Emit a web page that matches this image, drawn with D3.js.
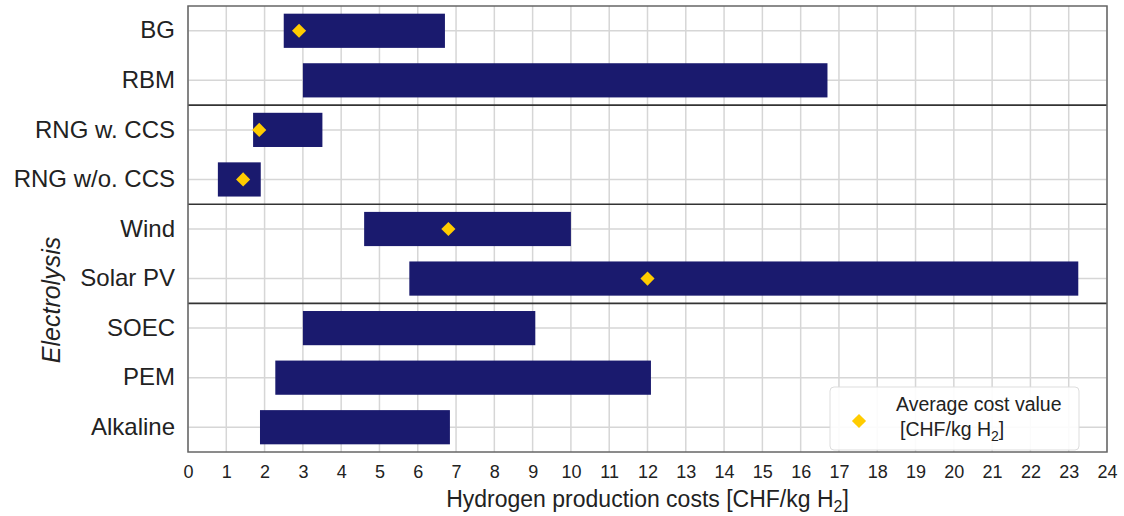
<!DOCTYPE html>
<html><head><meta charset="utf-8">
<script src="https://cdn.jsdelivr.net/npm/d3@7"></script>
<style>body{margin:0;background:#fff}svg{display:block;font-family:"Liberation Sans",Arial,sans-serif}</style>
</head><body><svg id="c" width="1124" height="516"></svg>
<script>
const categories = ["BG","RBM","RNG w. CCS","RNG w/o. CCS","Wind","Solar PV","SOEC","PEM","Alkaline"];
const minCost = [2.5, 3.0, 1.7, 0.78, 4.6, 5.78, 3.0, 2.28, 1.88];
const maxCost = [6.71, 16.7, 3.51, 1.9, 10.0, 23.25, 9.07, 12.09, 6.84];
const avgCost = [2.9, null, 1.86, 1.44, 6.8, 12.0, null, null, null];
const groupBreaksAfter = ["RBM","RNG w/o. CCS","Solar PV"];
const xTicks = d3.range(0, 25);

const svg = d3.select("#c");
const L = 188, R = 1107, T = 6, B = 452;
const x = d3.scaleLinear().domain([0,24]).range([L,R]);
const y = d3.scaleBand().domain(categories).range([T,B]).paddingInner(0.31).paddingOuter(0.155);
const yc = c => y(c) + y.bandwidth()/2;
const step = y.step();

// grid
svg.append("g").selectAll("line").data(xTicks).join("line")
  .attr("x1", d=>x(d)).attr("x2", d=>x(d)).attr("y1", T).attr("y2", B)
  .attr("stroke", "#d6d6d6").attr("stroke-width", 1.5);
svg.append("g").selectAll("line").data(categories).join("line")
  .attr("x1", L).attr("x2", R).attr("y1", yc).attr("y2", yc)
  .attr("stroke", "#d6d6d6").attr("stroke-width", 1.5);

// bars
svg.append("g").selectAll("rect").data(categories).join("rect")
  .attr("x", (d,i)=>x(minCost[i])).attr("width", (d,i)=>x(maxCost[i])-x(minCost[i]))
  .attr("y", d=>y(d)).attr("height", y.bandwidth())
  .attr("fill", "#1a1a6e");

// separators
svg.append("g").selectAll("line").data(groupBreaksAfter).join("line")
  .attr("x1", L).attr("x2", R)
  .attr("y1", d=>yc(d)+step/2).attr("y2", d=>yc(d)+step/2)
  .attr("stroke", "#333").attr("stroke-width", 1.6);

// diamonds
const diamond = d3.symbol().type(d3.symbolSquare).size(100);
svg.append("g").selectAll("path").data(categories.map((c,i)=>({c, v:avgCost[i]})).filter(d=>d.v!=null)).join("path")
  .attr("d", diamond)
  .attr("transform", d=>`translate(${x(d.v)},${yc(d.c)}) rotate(45)`)
  .attr("fill", "#ffcc00");

// frame
svg.append("rect").attr("x", L).attr("y", T).attr("width", R-L).attr("height", B-T)
  .attr("fill", "none").attr("stroke", "#666").attr("stroke-width", 1.5);

// x axis
const xAxis = d3.axisBottom(x).tickValues(xTicks).tickSize(0).tickPadding(0);
const gx = svg.append("g").attr("transform", `translate(0,${B})`).call(xAxis);
gx.select(".domain").remove();
gx.selectAll("text").attr("font-size", 18).attr("fill", "#222").attr("dy", null).attr("y", 26)
  .attr("font-family", "Liberation Sans, Arial, sans-serif");

// y axis
const yAxis = d3.axisLeft(y).tickSize(0).tickPadding(13);
const gy = svg.append("g").attr("transform", `translate(${L},0)`).call(yAxis);
gy.select(".domain").remove();
gy.selectAll("text").attr("font-size", 24).attr("fill", "#222").attr("font-family", "Liberation Sans, Arial, sans-serif");

// x title
const xt = svg.append("text").attr("x", (L+R)/2).attr("y", 507).attr("text-anchor", "middle")
  .attr("font-size", 23).attr("fill", "#222");
xt.append("tspan").text("Hydrogen production costs [CHF/kg H");
xt.append("tspan").attr("font-size", 16).attr("dy", 5).text("2");
xt.append("tspan").attr("dy", -5).text("]");

// group label
svg.append("text").attr("transform", `translate(60,300) rotate(-90)`)
  .attr("text-anchor", "middle").attr("font-size", 25).attr("font-style", "italic").attr("fill", "#222")
  .text("Electrolysis");

// legend
const lg = svg.append("g");
lg.append("rect").attr("x", 830).attr("y", 387).attr("width", 249).attr("height", 63).attr("rx", 4)
  .attr("fill", "#fff").attr("fill-opacity", 0.9).attr("stroke", "#ddd");
lg.append("path").attr("d", diamond).attr("transform", "translate(859,421) rotate(45)").attr("fill", "#ffcc00");
lg.append("text").attr("x", 896).attr("y", 411).attr("font-size", 19.5).attr("fill", "#222").text("Average cost value");
const l2 = lg.append("text").attr("x", 900).attr("y", 436).attr("font-size", 19.5).attr("fill", "#222");
l2.append("tspan").text("[CHF/kg H");
l2.append("tspan").attr("font-size", 14).attr("dy", 5).text("2");
l2.append("tspan").attr("dy", -5).text("]");
</script></body></html>
